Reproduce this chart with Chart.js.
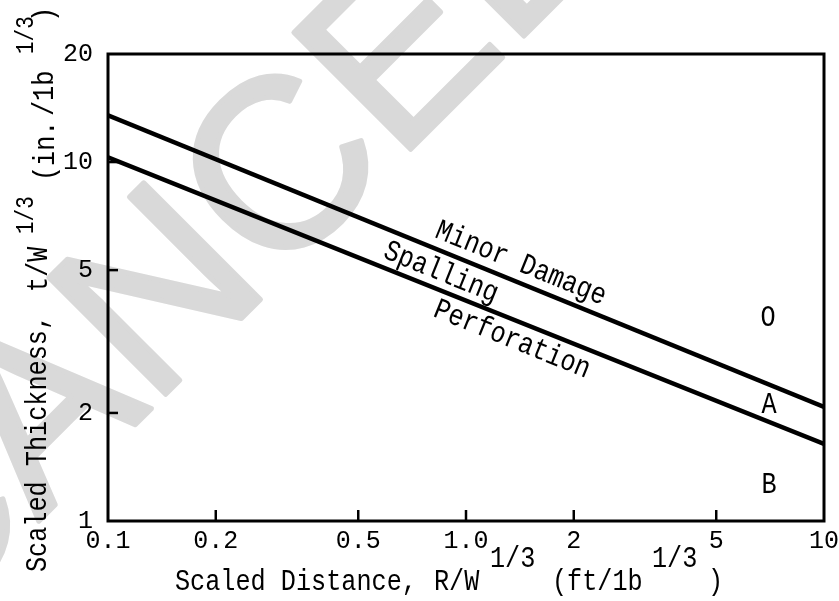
<!DOCTYPE html>
<html><head><meta charset="utf-8">
<script src="https://cdn.jsdelivr.net/npm/chart.js@4.4.0/dist/chart.umd.min.js"></script>
<style>html,body{margin:0;padding:0;background:#fff;overflow:hidden}#wrap{width:839px;height:601px;position:relative}</style>
</head><body><div id="wrap"><canvas id="c"></canvas></div>
<script>
// ---- data ----
const distanceEnds = [0.1, 10];               // scaled distance R/W^1/3 (ft/lb^1/3)
const minorDamageBoundary = [13.5, 2.08];     // upper line t/W^1/3 (in./lb^1/3)
const perforationBoundary = [10.3, 1.64];     // lower line
const xTickValues = [0.1, 0.2, 0.5, 1, 2, 5, 10];
const xTickLabels = ['0.1', '0.2', '0.5', '1.0', '2', '5', '10'];
const yTickValues = [1, 2, 5, 10, 20];
const yTickLabels = ['1', '2', '5', '10', '20'];
const regionLabels = ['Minor Damage', 'Spalling', 'Perforation'];
const zoneLetters = ['O', 'A', 'B'];

const MONO = '"Liberation Mono", "Courier New", monospace';

function pts(xs, ys) { return xs.map((x, i) => ({ x: x, y: ys[i] })); }

function txt(ctx, s, x, y, size, angleDeg, sx) {
  ctx.save();
  ctx.translate(x, y);
  ctx.rotate(angleDeg * Math.PI / 180);
  ctx.scale(sx, 1);
  ctx.font = size + 'px ' + MONO;
  ctx.fillText(s, 0, 0);
  ctx.restore();
}

const deco = {
  id: 'deco',
  beforeDraw(chart) {
    const ctx = chart.ctx;
    ctx.save();
    ctx.fillStyle = '#d9d9d9';
    ctx.strokeStyle = '#d9d9d9';
    ctx.lineWidth = 5;
    ctx.lineJoin = 'round';
    ctx.font = '240px "Liberation Sans", Arial, sans-serif';
    ctx.textBaseline = 'alphabetic';
    ctx.textAlign = 'left';
    ctx.translate(-84, 644);
    ctx.rotate(-45 * Math.PI / 180);
    ctx.fillText('CANCELLED', 0, 0);
    ctx.strokeText('CANCELLED', 0, 0);
    ctx.restore();
  },
  afterDraw(chart) {
    const ctx = chart.ctx;
    const a = chart.chartArea;
    const xs = chart.scales.x, ys = chart.scales.y;
    ctx.save();
    ctx.strokeStyle = '#000';
    ctx.lineWidth = 3;
    ctx.strokeRect(a.left, a.top, a.right - a.left, a.bottom - a.top);
    ctx.lineWidth = 2.5;
    xTickValues.slice(1, -1).forEach(v => {
      const px = xs.getPixelForValue(v);
      ctx.beginPath(); ctx.moveTo(px, a.bottom); ctx.lineTo(px, a.bottom - 11); ctx.stroke();
    });
    yTickValues.slice(1, -1).forEach(v => {
      const py = ys.getPixelForValue(v);
      ctx.beginPath(); ctx.moveTo(a.left, py); ctx.lineTo(a.left + 10, py); ctx.stroke();
    });
    ctx.fillStyle = '#000';
    ctx.textAlign = 'left';
    ctx.textBaseline = 'alphabetic';
    const SX = 0.84, FS = 30;
    // x axis title
    [['Scaled Distance,', 175, 590, FS], ['R/W', 434, 590, FS], ['1/3', 490, 567, FS],
     ['(ft/1b', 552, 590, FS], ['1/3', 652, 567, FS], [')', 708, 590, FS]]
      .forEach(s => txt(ctx, s[0], s[1], s[2], s[3], 0, SX));
    // y axis title (rotated)
    [['Scaled Thickness,', 46, 572, FS], ['t/W', 47, 292, FS], ['1/3', 33, 234, 25],
     ['(in.', 54, 181, FS], ['/1b', 53, 116, FS], ['1/3', 33, 54, 25], [')', 53, 22, FS]]
      .forEach(s => txt(ctx, s[0], s[1], s[2], s[3], -90, SX));
    // labels along the boundaries
    ctx.textAlign = 'center';
    [[regionLabels[0], 518, 271], [regionLabels[1], 438, 280], [regionLabels[2], 509, 347]]
      .forEach(s => txt(ctx, s[0], s[1], s[2], FS, 22, SX));
    // zone letters
    ctx.textBaseline = 'middle';
    [[zoneLetters[0], 768, 318], [zoneLetters[1], 769, 405], [zoneLetters[2], 769, 485]]
      .forEach(s => txt(ctx, s[0], s[1], s[2], FS, 0, SX));
    ctx.restore();
  }
};

new Chart(document.getElementById('c'), {
  type: 'line',
  data: {
    datasets: [
      { label: 'Minor Damage / Spalling', data: pts(distanceEnds, minorDamageBoundary), borderColor: '#000', borderWidth: 4.5, pointRadius: 0, fill: false, tension: 0 },
      { label: 'Spalling / Perforation', data: pts(distanceEnds, perforationBoundary), borderColor: '#000', borderWidth: 4.5, pointRadius: 0, fill: false, tension: 0 }
    ]
  },
  options: {
    responsive: true,
    maintainAspectRatio: false,
    animation: false,
    devicePixelRatio: 1,
    layout: { padding: { left: 0, top: 54, right: 15, bottom: 0 } },
    plugins: { legend: { display: false }, tooltip: { enabled: false }, title: { display: false } },
    scales: {
      x: {
        type: 'logarithmic', min: 0.1, max: 10,
        grid: { display: false }, border: { display: false },
        afterBuildTicks: s => { s.ticks = xTickValues.map(v => ({ value: v })); },
        afterFit: s => { s.height = 80; },
        ticks: {
          autoSkip: false, maxRotation: 0, padding: -3, color: '#000',
          font: { family: MONO, size: 25 },
          callback: (v) => { const i = xTickValues.indexOf(v); return i >= 0 ? xTickLabels[i] : ''; }
        }
      },
      y: {
        type: 'logarithmic', min: 1, max: 20,
        grid: { display: false }, border: { display: false },
        afterBuildTicks: s => { s.ticks = yTickValues.map(v => ({ value: v })); },
        afterFit: s => { s.width = 108; },
        ticks: {
          autoSkip: false, padding: 7, color: '#000',
          font: { family: MONO, size: 25 },
          callback: (v) => { const i = yTickValues.indexOf(v); return i >= 0 ? yTickLabels[i] : ''; }
        }
      }
    }
  },
  plugins: [deco]
});
</script>
</body></html>
